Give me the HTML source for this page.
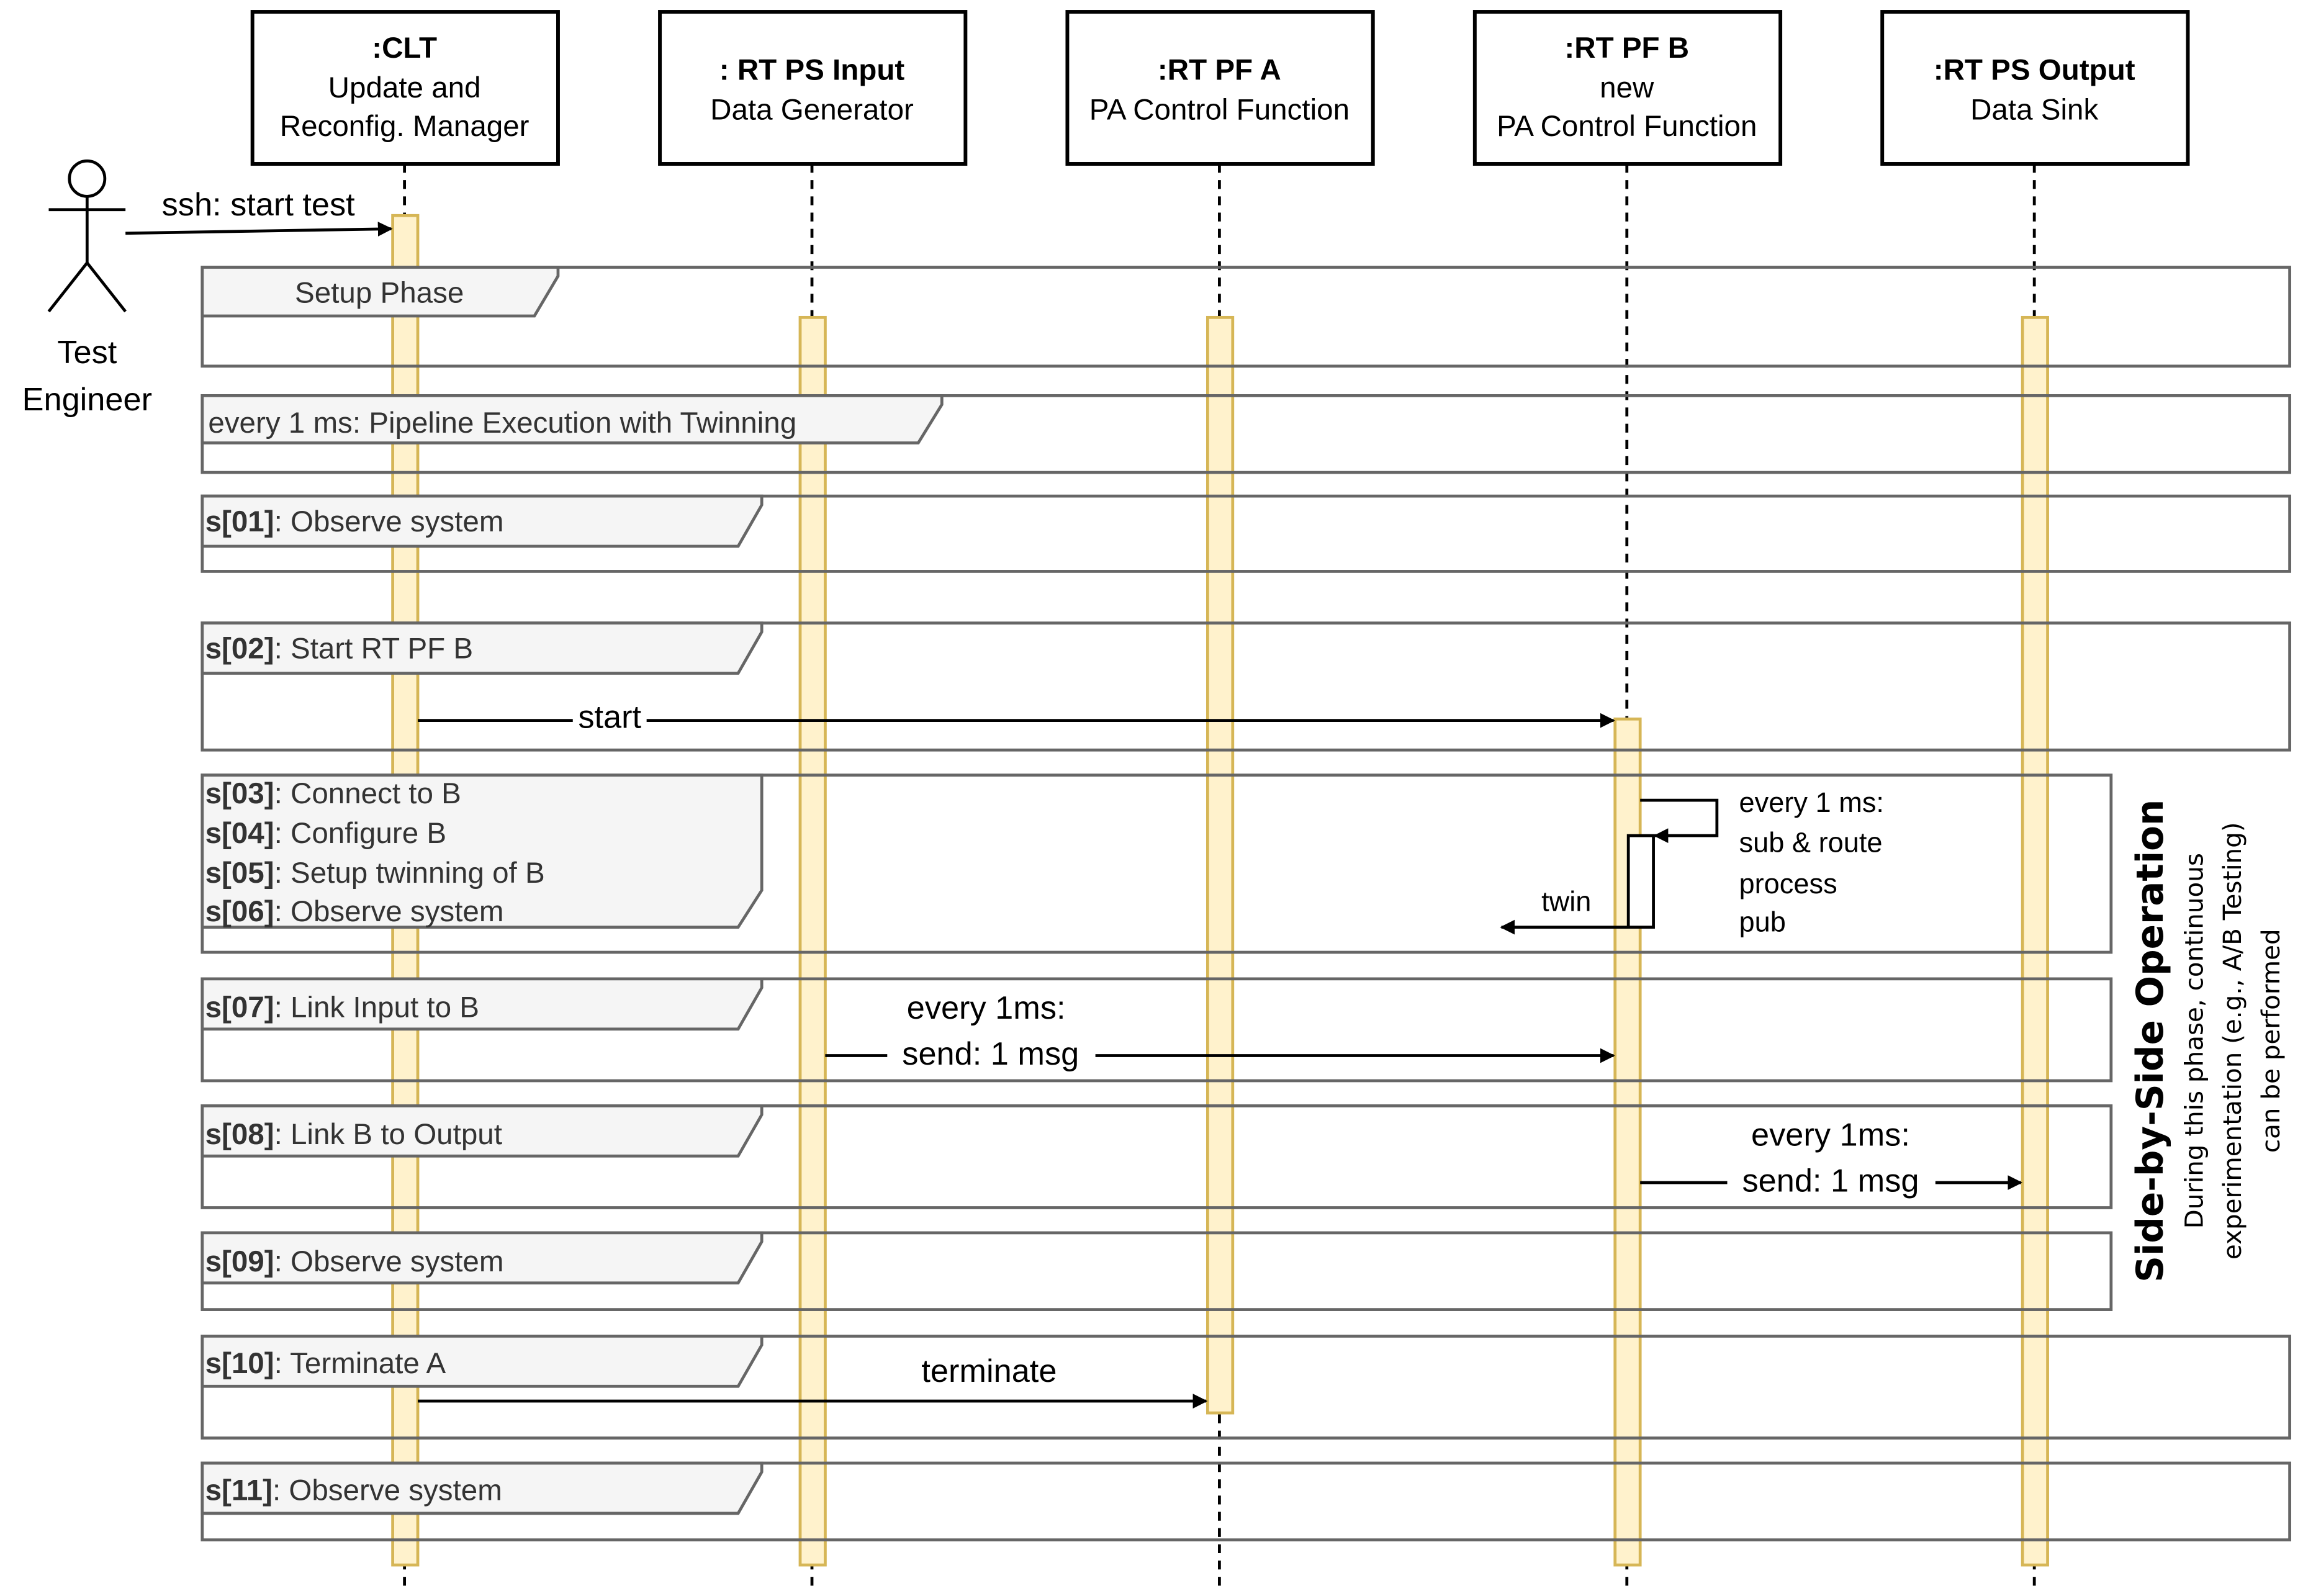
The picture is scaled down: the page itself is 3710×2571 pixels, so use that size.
<!DOCTYPE html>
<html><head><meta charset="utf-8"><style>html,body{margin:0;padding:0;background:#fff}svg{display:block}</style></head>
<body>
<svg width="3710" height="2571" viewBox="0 0 1560 1081" preserveAspectRatio="none" xmlns="http://www.w3.org/2000/svg" font-family="Liberation Sans, Arial, sans-serif">
<defs><marker id="a" markerWidth="10" markerHeight="10" refX="9" refY="5" orient="auto" markerUnits="userSpaceOnUse"><path d="M0,0 L10,5 L0,10 Z" fill="#000"/></marker></defs>
<rect width="1560" height="1081" fill="#fff"/>
<!-- lifelines -->
<g stroke="#000" stroke-width="2" stroke-dasharray="6,5">
<line x1="274" y1="111" x2="274" y2="1078"/><line x1="550" y1="111" x2="550" y2="1078"/><line x1="826" y1="111" x2="826" y2="1078"/><line x1="1102" y1="111" x2="1102" y2="1078"/><line x1="1378" y1="111" x2="1378" y2="1078"/>
</g>
<g fill="#fff" stroke="#000" stroke-width="2.5">
<rect x="171" y="8" width="207" height="103"/><rect x="447" y="8" width="207" height="103"/><rect x="723" y="8" width="207" height="103"/><rect x="999" y="8" width="207" height="103"/><rect x="1275" y="8" width="207" height="103"/>
</g>
<g font-size="20" text-anchor="middle" fill="#000">
<text x="274" y="39" font-weight="bold">:CLT</text><text x="274" y="66">Update and</text><text x="274" y="92">Reconfig. Manager</text>
<text x="550" y="54" font-weight="bold">: RT PS Input</text><text x="550" y="81">Data Generator</text>
<text x="826" y="54" font-weight="bold">:RT PF A</text><text x="826" y="81">PA Control Function</text>
<text x="1102" y="39" font-weight="bold">:RT PF B</text><text x="1102" y="66">new</text><text x="1102" y="92">PA Control Function</text>
<text x="1378" y="54" font-weight="bold">:RT PS Output</text><text x="1378" y="81">Data Sink</text>
</g>
<!-- activations -->
<g fill="#fff2cc" stroke="#d6b656" stroke-width="2">
<rect x="266" y="146" width="17" height="914"/><rect x="542" y="215" width="17" height="845"/><rect x="818" y="215" width="17" height="742"/><rect x="1094" y="487" width="17" height="573"/><rect x="1370" y="215" width="17" height="845"/>
</g>
<!-- frames -->
<g fill="none" stroke="#666" stroke-width="2">
<rect x="137" y="181" width="1414" height="67"/><rect x="137" y="268" width="1414" height="52"/><rect x="137" y="336" width="1414" height="51"/><rect x="137" y="422" width="1414" height="86"/><rect x="137" y="525" width="1293" height="120"/><rect x="137" y="663" width="1293" height="69"/><rect x="137" y="749" width="1293" height="69"/><rect x="137" y="835" width="1293" height="52"/><rect x="137" y="905" width="1414" height="69"/><rect x="137" y="991" width="1414" height="52"/>
</g>
<g fill="#f5f5f5" stroke="#666" stroke-width="2">
<path d="M137,181 H378 V187 L362,214 H137 Z"/>
<path d="M137,268 H638 V274 L622,300 H137 Z"/>
<path d="M137,336 H516 V342 L500,370 H137 Z"/>
<path d="M137,422 H516 V428 L500,456 H137 Z"/>
<path d="M137,525 H516 V603 L500,628 H137 Z"/>
<path d="M137,663 H516 V669 L500,697 H137 Z"/>
<path d="M137,749 H516 V755 L500,783 H137 Z"/>
<path d="M137,835 H516 V841 L500,869 H137 Z"/>
<path d="M137,905 H516 V911 L500,939 H137 Z"/>
<path d="M137,991 H516 V997 L500,1025 H137 Z"/>
</g>
<g font-size="20" fill="#333">
<text x="257" y="205" text-anchor="middle">Setup Phase</text>
<text x="141" y="293">every 1 ms: Pipeline Execution with Twinning</text>
<text x="139" y="360"><tspan font-weight="bold">s[01]</tspan>: Observe system</text>
<text x="139" y="446"><tspan font-weight="bold">s[02]</tspan>: Start RT PF B</text>
<text x="139" y="544"><tspan font-weight="bold">s[03]</tspan>: Connect to B</text>
<text x="139" y="571"><tspan font-weight="bold">s[04]</tspan>: Configure B</text>
<text x="139" y="598"><tspan font-weight="bold">s[05]</tspan>: Setup twinning of B</text>
<text x="139" y="624"><tspan font-weight="bold">s[06]</tspan>: Observe system</text>
<text x="139" y="689"><tspan font-weight="bold">s[07]</tspan>: Link Input to B</text>
<text x="139" y="775"><tspan font-weight="bold">s[08]</tspan>: Link B to Output</text>
<text x="139" y="861"><tspan font-weight="bold">s[09]</tspan>: Observe system</text>
<text x="139" y="930"><tspan font-weight="bold">s[10]</tspan>: Terminate A</text>
<text x="139" y="1016"><tspan font-weight="bold">s[11]</tspan>: Observe system</text>
</g>
<!-- actor -->
<g stroke="#000" stroke-width="2" fill="none">
<circle cx="59" cy="121" r="12" fill="#fff"/><line x1="59" y1="133" x2="59" y2="178"/><line x1="33" y1="142" x2="85" y2="142"/><path d="M33,211 L59,178 L85,211"/>
</g>
<g font-size="22" text-anchor="middle"><text x="59" y="246">Test</text><text x="59" y="278">Engineer</text></g>
<!-- messages -->
<g stroke="#000" stroke-width="2" fill="none" marker-end="url(#a)">
<line x1="85" y1="158" x2="265" y2="155"/>
<line x1="283" y1="488" x2="1093" y2="488"/>
<line x1="559" y1="715" x2="1093" y2="715"/>
<line x1="1111" y1="801" x2="1369" y2="801"/>
<line x1="283" y1="949" x2="817" y2="949"/>
<path d="M1111,542 H1163 V566 H1121"/>
<line x1="1103" y1="628" x2="1017" y2="628"/>
</g>
<rect x="1103" y="566" width="17" height="62" fill="#fff" stroke="#000" stroke-width="2"/>
<g font-size="22" text-anchor="middle" fill="#000">
<text x="175" y="146">ssh: start test</text>
<rect x="388" y="474" width="50" height="24" fill="#fff"/><text x="413" y="493">start</text>
<text x="668" y="690">every 1ms:</text>
<rect x="601" y="703" width="141" height="24" fill="#fff"/><text x="671" y="721">send: 1 msg</text>
<text x="1240" y="776">every 1ms:</text>
<rect x="1170" y="789" width="141" height="24" fill="#fff"/><text x="1240" y="807">send: 1 msg</text>
<text x="670" y="936">terminate</text>
</g>
<g font-size="19" fill="#000">
<text x="1061" y="617" text-anchor="middle">twin</text>
<text x="1178" y="550">every 1 ms:</text><text x="1178" y="577">sub &amp; route</text><text x="1178" y="605">process</text><text x="1178" y="631">pub</text>
</g>
<g text-anchor="middle" transform="translate(1455,705) rotate(-90)" font-family="DejaVu Sans, Liberation Sans, sans-serif">
<text x="0" y="10" font-size="25" font-weight="bold">Side-by-Side Operation</text>
<text x="0" y="37" font-size="17">During this phase, continuous</text>
<text x="0" y="63" font-size="17">experimentation (e.g., A/B Testing)</text>
<text x="0" y="89" font-size="17">can be performed</text>
</g>
</svg>
</body></html>
